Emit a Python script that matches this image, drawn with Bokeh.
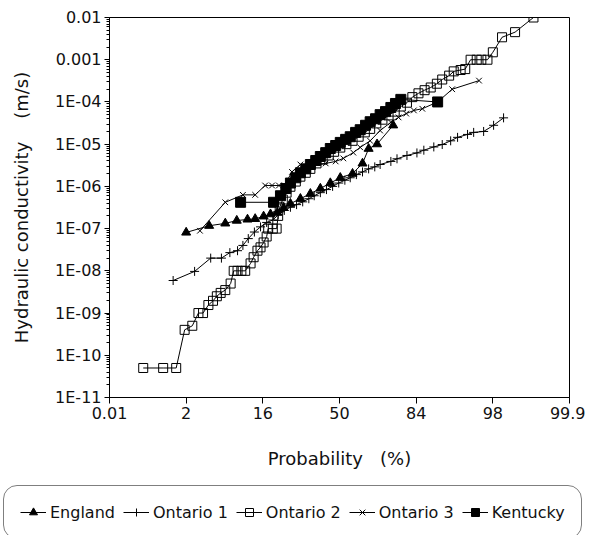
from bokeh.plotting import figure
from bokeh.models import FixedTicker, Legend, LegendItem, Range1d
from bokeh.layouts import column
from bokeh.embed import file_html
from bokeh.resources import INLINE

# x values are positions on the normal-probability axis (standard deviations)
x_ticks = [-3, -2, -1, 0, 1, 2, 3]
x_tick_labels = ["0.01", "2", "16", "50", "84", "98", "99.9"]
y_tick_exps = list(range(-11, -1))
y_tick_labels = ["1E-11", "1E-10", "1E-09", "1E-08", "1E-07", "1E-06", "1E-05", "1E-04", "0.001", "0.01"]

england_z = [-2.00, -1.70, -1.49, -1.34, -1.20, -1.10, -0.99, -0.90, -0.81, -0.73, -0.64, -0.51,
             -0.38, -0.25, -0.12, 0.01, 0.17, 0.30, 0.38, 0.49, 0.70]
england_k = [8.1e-8, 1.17e-7, 1.33e-7, 1.55e-7, 1.65e-7, 1.7e-7, 1.95e-7, 2.2e-7, 2.4e-7, 3.1e-7, 3.9e-7, 5.1e-7,
             6.7e-7, 8.9e-7, 1.2e-6, 1.6e-6, 2.0e-6, 3.5e-6, 7.8e-6, 1.0e-5, 2.8e-5]

ontario1_z = [-2.17, -1.89, -1.68, -1.54, -1.43, -1.33, -1.26, -1.19, -1.11, -1.03, -0.95, -0.87, -0.80,
              -0.72, -0.64, -0.56, -0.48, -0.40, -0.33, -0.25, -0.17, -0.09, -0.01, 0.07, 0.14, 0.22,
              0.30, 0.38, 0.46, 0.53, 0.67, 0.75, 0.88, 1.01, 1.10, 1.23, 1.34, 1.45, 1.54, 1.67, 1.75,
              1.88, 2.01, 2.14]
ontario1_k = [5.9e-9, 9.7e-9, 2.0e-8, 2.0e-8, 2.7e-8, 3.0e-8, 4.0e-8, 5.8e-8, 8.3e-8, 1.1e-7, 1.4e-7, 1.6e-7, 2.1e-7,
              2.7e-7, 3.2e-7, 3.7e-7, 4.3e-7, 5.1e-7, 6.0e-7, 7.1e-7, 8.4e-7, 1.0e-6, 1.2e-6, 1.4e-6, 1.6e-6, 1.9e-6,
              2.2e-6, 2.6e-6, 2.9e-6, 3.3e-6, 3.9e-6, 4.5e-6, 5.4e-6, 6.2e-6, 7.2e-6, 8.6e-6, 9.8e-6, 1.2e-5, 1.45e-5,
              1.7e-5, 1.9e-5, 2.0e-5, 2.8e-5, 4.2e-5]

ontario2_z = [-2.56, -2.30, -2.13, -2.02, -1.92, -1.84, -1.78, -1.71, -1.65, -1.60, -1.55, -1.49, -1.42,
              -1.38, -1.33, -1.28, -1.23, -1.16, -1.12, -1.07, -1.03, -0.99, -0.95, -0.93, -0.87, -0.82,
              -0.80, -0.78, -0.74, -0.69, -0.64, -0.57, -0.51, -0.44, -0.38, -0.30, -0.22, -0.14, -0.07,
              0.01, 0.09, 0.17, 0.25, 0.33, 0.40, 0.48, 0.56, 0.64, 0.72, 0.80, 0.88, 0.95, 1.03, 1.11,
              1.19, 1.27, 1.34, 1.43, 1.49, 1.58, 1.64, 1.71, 1.79, 1.85, 1.93, 2.00, 2.12, 2.29, 2.53]
ontario2_k = [5e-11, 5e-11, 5e-11, 4e-10, 5e-10, 1e-9, 1e-9, 1.55e-9, 1.95e-9, 2.5e-9, 3e-9, 3.5e-9, 5e-9,
              1e-8, 1e-8, 1e-8, 1e-8, 1.5e-8, 2.1e-8, 3e-8, 3.6e-8, 4.7e-8, 6.5e-8, 1e-7, 1e-7, 1e-7,
              2e-7, 3.2e-7, 4.9e-7, 7.1e-7, 9.8e-7, 1.3e-6, 1.7e-6, 2.1e-6, 2.6e-6, 3.5e-6, 4.3e-6, 5.4e-6, 6.6e-6,
              8.3e-6, 1.0e-5, 1.2e-5, 1.5e-5, 1.9e-5, 2.3e-5, 3.1e-5, 3.8e-5, 4.8e-5, 5.9e-5, 7.8e-5, 9.6e-5, 1.3e-4,
              1.6e-4, 1.9e-4, 2.2e-4, 2.7e-4, 3.4e-4, 4.2e-4, 5.3e-4, 5.7e-4, 6.0e-4, 1e-3, 1e-3, 1e-3, 1e-3,
              1.5e-3, 3.4e-3, 4.5e-3, 1e-2]

ontario3_z = [-1.82, -1.49, -1.26, -1.10, -0.97, -0.88, -0.79, -0.72, -0.62, -0.51, -0.35, -0.18, -0.05,
              0.05, 0.18, 0.27, 0.40, 0.53, 0.67, 0.77, 0.87, 0.97, 1.08, 1.28, 1.47, 1.82]
ontario3_k = [8.9e-8, 4.2e-7, 6.3e-7, 6.3e-7, 1.05e-6, 1.05e-6, 1.05e-6, 1.05e-6, 2.2e-6, 3.3e-6, 3.3e-6, 3.5e-6, 3.9e-6,
              4.6e-6, 6.3e-6, 8.4e-6, 1.2e-5, 2.1e-5, 3.3e-5, 4.3e-5, 5.3e-5, 6.3e-5, 6.9e-5, 1.0e-4, 2.0e-4, 3.2e-4]

kentucky_z = [-1.29, -0.86, -0.77, -0.70, -0.64, -0.57, -0.51, -0.44, -0.38, -0.31, -0.25, -0.18, -0.12,
              -0.05, 0.01, 0.08, 0.14, 0.21, 0.27, 0.34, 0.40, 0.47, 0.53, 0.60, 0.67, 0.73, 0.80, 1.28]
kentucky_k = [4.2e-7, 4.2e-7, 6.0e-7, 8.9e-7, 1.2e-6, 1.6e-6, 2.1e-6, 2.6e-6, 3.3e-6, 4.1e-6, 5.1e-6, 6.3e-6, 7.9e-6,
              9.3e-6, 1.1e-5, 1.3e-5, 1.5e-5, 1.9e-5, 2.2e-5, 2.8e-5, 3.4e-5, 4.0e-5, 5.0e-5, 5.9e-5, 7.4e-5, 9.2e-5,
              1.15e-4, 1.0e-4]

FONT = "DejaVu Sans"
INK = "#111111"
NB = "\u00a0"

p = figure(width=585, height=478, y_axis_type="log",
           x_range=Range1d(-3, 3), y_range=Range1d(1e-11, 1e-2),
           output_backend="svg", toolbar_location=None,
           min_border_left=109, min_border_right=16, min_border_top=17, min_border_bottom=81)
p.frame_align = False
p.grid.visible = False
p.outline_line_color = "black"
p.outline_line_width = 1
p.background_fill_color = "white"
p.border_fill_color = "white"

# x axis
p.xaxis.ticker = FixedTicker(ticks=x_ticks)
p.xaxis.major_label_overrides = {t: l for t, l in zip(x_ticks, x_tick_labels)}
p.xaxis.axis_label = "Probability" + NB + NB + " (%)"
p.xaxis.major_tick_out = 6
p.xaxis.major_tick_in = 0
p.xaxis.minor_tick_out = 0
p.xaxis.minor_tick_in = 0
p.xaxis.major_label_standoff = 3
p.xaxis.axis_label_standoff = 26

# y axis
y_ticks = [10.0 ** e for e in y_tick_exps]
y_minor = [k * 10.0 ** e for e in y_tick_exps[:-1] for k in range(2, 10)]
p.yaxis.ticker = FixedTicker(ticks=y_ticks, minor_ticks=y_minor)
p.yaxis.major_label_overrides = {t: l for t, l in zip(y_ticks, y_tick_labels)}
p.yaxis.axis_label = "Hydraulic conductivity" + NB + NB + NB + " (m/s)"
p.yaxis.major_tick_out = 5
p.yaxis.major_tick_in = 0
p.yaxis.minor_tick_out = 3
p.yaxis.minor_tick_in = 0
p.yaxis.major_label_standoff = 3
p.yaxis.axis_label_standoff = 20

for ax in (p.xaxis, p.yaxis):
    ax.axis_line_color = "black"
    ax.major_tick_line_color = "black"
    ax.minor_tick_line_color = "black"
    ax.major_label_text_font = FONT
    ax.major_label_text_font_size = "16px"
    ax.major_label_text_color = INK
    ax.axis_label_text_font = FONT
    ax.axis_label_text_font_size = "18px"
    ax.axis_label_text_font_style = "normal"
    ax.axis_label_text_color = INK

series = [
    ("England", england_z, england_k, dict(marker="triangle", size=9, fill_color="black")),
    ("Ontario 1", ontario1_z, ontario1_k, dict(marker="cross", size=9)),
    ("Ontario 2", ontario2_z, ontario2_k, dict(marker="square", size=9, fill_color=None)),
    ("Ontario 3", ontario3_z, ontario3_k, dict(marker="x", size=8)),
    ("Kentucky", kentucky_z, kentucky_k, dict(marker="square", size=10, fill_color="black")),
]

for name, xs, ys, mk in series:
    p.line(xs, ys, line_color="black", line_width=1)
    p.scatter(xs, ys, line_color="black", line_width=1, **mk)

# legend strip below the chart: the same series are attached here, outside this
# strip's visible range, so only their legend entries appear
lg = figure(width=585, height=57, x_range=Range1d(-3, 3), y_range=Range1d(1, 2),
            output_backend="svg", toolbar_location=None,
            x_axis_location=None, y_axis_location=None,
            min_border_left=0, min_border_right=0, min_border_top=0, min_border_bottom=0)
lg.frame_align = False
lg.grid.visible = False
lg.outline_line_color = None
lg.background_fill_color = "white"
lg.border_fill_color = "white"

items = []
for name, xs, ys, mk in series:
    ln = lg.line(xs, ys, line_color="black", line_width=1)
    sc = lg.scatter(xs, ys, line_color="black", line_width=1, **mk)
    items.append(LegendItem(label=name, renderers=[ln, sc]))

legend = Legend(items=items, orientation="horizontal", location=(3, -4), margin=0,
                glyph_width=26, glyph_height=20, label_standoff=4, spacing=8, padding=16,
                border_line_color="black", border_line_width=1, background_fill_alpha=0,
                label_text_font=FONT, label_text_font_size="16px", label_text_color=INK)
try:
    legend.border_radius = 14
except Exception:
    pass
lg.add_layout(legend, "center")

layout = column(p, lg, spacing=0)
open("out.html", "w").write(file_html(layout, INLINE))
